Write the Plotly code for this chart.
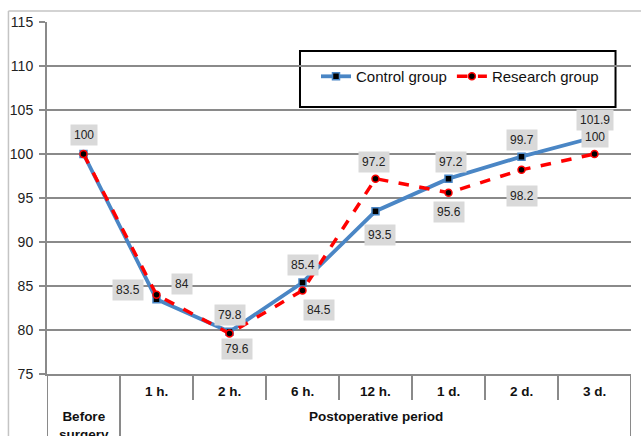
import plotly.graph_objects as go

categories = ["Before surgery", "1 h.", "2 h.", "6 h.", "12 h.", "1 d.", "2 d.", "3 d."]
control = [100, 83.5, 79.8, 85.4, 93.5, 97.2, 99.7, 101.9]
research = [100, 84, 79.6, 84.5, 97.2, 95.6, 98.2, 100]
group_label = "Postoperative period"
y_ticks = [75, 80, 85, 90, 95, 100, 105, 110, 115]

# label offsets (pixels) — styling only
control_off = [(0, 19), (-29, 9), (0, 17), (0, 17), (4, -24), (2, 17), (0, 17), (0, 17)]
research_off = [None, (25, 11), (7, -15), (16, -20), (-2, 17), (0, -19), (0, -26), (0, 17)]

x = list(range(len(categories)))
BLUE = "#4a86c5"
RED = "#ff0000"
GRID = "#8a8a8a"

fig = go.Figure()
fig.add_trace(go.Scatter(
    x=x, y=control, name="Control group", mode="lines+markers",
    line=dict(color=BLUE, width=3.8),
    marker=dict(symbol="square", size=7, color="black", line=dict(color=BLUE, width=1.5)),
))
fig.add_trace(go.Scatter(
    x=x, y=research, name="Research group", mode="lines+markers",
    line=dict(color=RED, width=3.5, dash="dash"),
    marker=dict(symbol="circle", size=7, color="black", line=dict(color=RED, width=1.5)),
))

ann = []
lab_font = dict(family="Liberation Sans, Arial", size=12, color="#222")
for i, v in enumerate(control):
    dx, dy = control_off[i]
    ann.append(dict(x=x[i], y=v, xref="x", yref="y", text=f"{v:g}", showarrow=False,
                    xshift=dx, yshift=dy, bgcolor="#d9d9d9", borderpad=3, font=lab_font))
for i, v in enumerate(research):
    if research_off[i] is None:
        continue
    dx, dy = research_off[i]
    ann.append(dict(x=x[i], y=v, xref="x", yref="y", text=f"{v:g}", showarrow=False,
                    xshift=dx, yshift=dy, bgcolor="#d9d9d9", borderpad=3, font=lab_font))

bold = dict(family="Liberation Sans, Arial", size=13.5, color="#111")
for i in range(1, len(categories)):
    ann.append(dict(x=x[i], y=-0.051, xref="x", yref="paper", text=f"<b>{categories[i]}</b>",
                    showarrow=False, font=bold, yanchor="middle"))
ann.append(dict(x=0, y=-0.147, xref="x", yref="paper", text="<b>Before<br>surgery</b>",
                showarrow=False, font=bold, yanchor="middle"))
ann.append(dict(x=(x[1] + x[-1]) / 2, y=-0.122, xref="x", yref="paper", text=f"<b>{group_label}</b>",
                showarrow=False, font=bold, yanchor="middle"))

shapes = []
# table vertical lines
for b in range(len(categories) + 1):
    xb = b - 0.5
    full = b in (0, 1, len(categories))
    shapes.append(dict(type="line", xref="x", yref="paper", x0=xb, x1=xb, y0=0,
                       y1=-0.25 if full else -0.074, line=dict(color=GRID, width=2)))
# outer chart border (top and left)
shapes.append(dict(type="line", xref="paper", yref="paper", x0=-0.066, x1=1.1, y0=1.031, y1=1.031,
                   line=dict(color="#c4c4c4", width=1.5)))
shapes.append(dict(type="line", xref="paper", yref="paper", x0=-0.066, x1=-0.066, y0=1.031, y1=-0.3,
                   line=dict(color="#c4c4c4", width=1.5)))
# legend box
shapes.append(dict(type="rect", xref="paper", yref="paper", x0=0.4332, x1=0.9735, y0=0.7586, y1=0.9176,
                   fillcolor="white", line=dict(color="black", width=2), layer="between"))

fig.update_layout(
    width=641, height=436,
    margin=dict(l=47, r=10, t=22, b=62),
    paper_bgcolor="white", plot_bgcolor="white",
    showlegend=True,
    legend=dict(orientation="h", x=(460 - 47) / 584, y=0.845, xanchor="center", yanchor="middle",
                bgcolor="rgba(0,0,0,0)", borderwidth=0,
                font=dict(family="Liberation Sans, Arial", size=15, color="#111")),
    annotations=ann, shapes=shapes,
    xaxis=dict(range=[-0.5, len(categories) - 0.5], showticklabels=False, showgrid=False,
               zeroline=False, showline=True, linecolor=GRID, linewidth=2, ticks=""),
    yaxis=dict(range=[75, 115], tickvals=y_ticks, showgrid=True, gridcolor=GRID, gridwidth=2,
               zeroline=False, showline=True, linecolor=GRID, linewidth=2,
               ticks="outside", ticklen=6, tickcolor=GRID, tickwidth=2, ticklabelstandoff=3,
               tickfont=dict(family="Liberation Sans, Arial", size=14, color="#222")),
)

fig.write_html("out.html", config={"displayModeBar": False},
               post_script="document.body.style.margin='0';document.body.style.overflow='hidden';")
